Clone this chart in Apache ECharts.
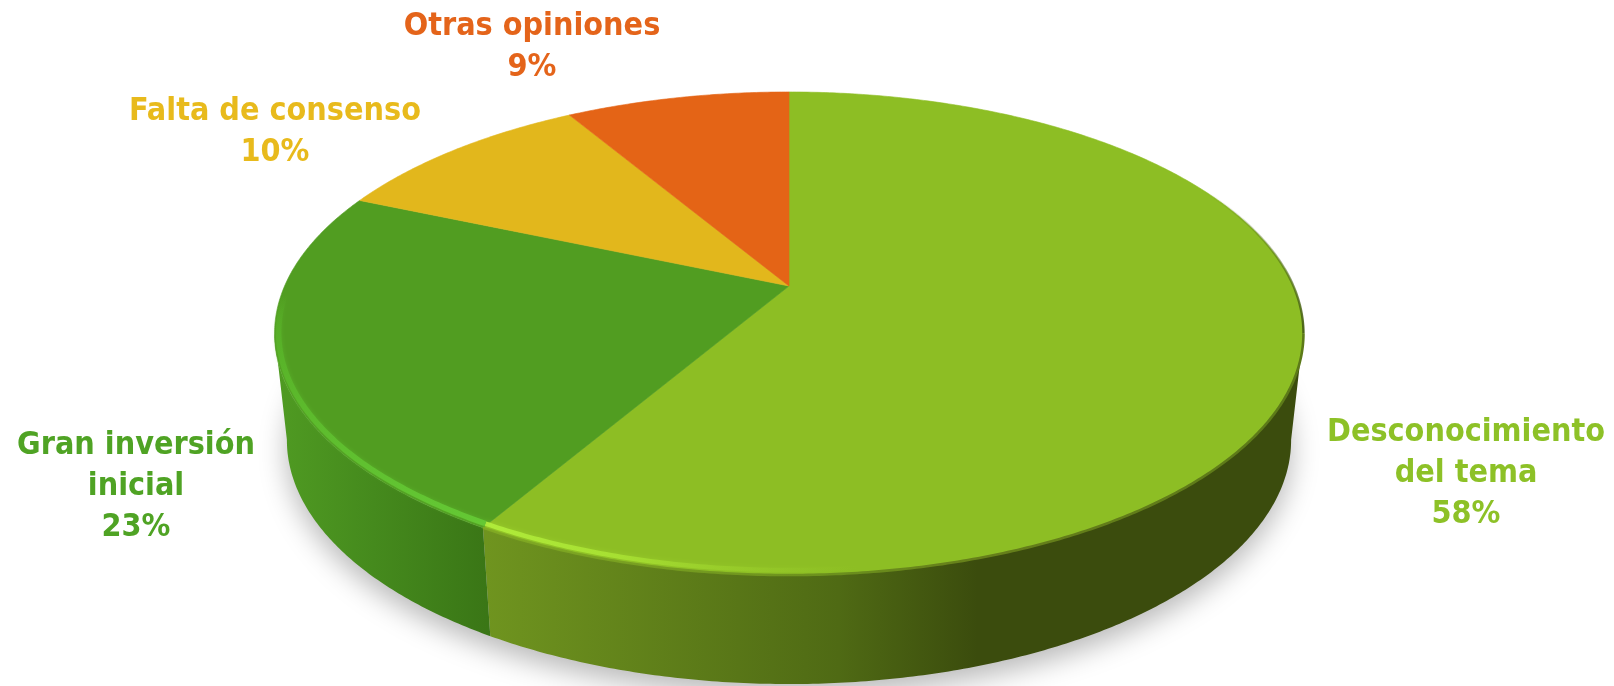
<!DOCTYPE html>
<html><head><meta charset="utf-8">
<style>html,body{margin:0;padding:0;background:#fff}#c{width:1614px;height:686px}</style>
<script src="https://cdn.jsdelivr.net/npm/echarts@6/dist/echarts.min.js"></script>
</head><body><div id="c"></div>
<script>
const categories = ["Desconocimiento\ndel tema", "Gran inversión\ninicial", "Falta de consenso", "Otras opiniones"];
const values = [58.4, 23.1, 10.0, 8.5];
const faceColors = ["#8DBE24", "#519D21", "#E2B71C", "#E46416"];
const labelColors = ["#8DC127", "#4FA324", "#E8BA1C", "#E4641A"];

// view of the tilted disc
const K = 0.1967, CX = 789;
const TOP = {y0: 286, a: 232.2, b: 504.4};
const RIM = {y0: 286, a: 228.2, b: 500.4};
const BOT = {y0: 392, a: 234.6, b: 492.3};
const FRONT_A = 101.3, FRONT_B = 258.7;
const labelCentres = [[1466, 474], [136, 487], [275, 132], [532, 47]];
const total = values.reduce((s, v) => s + v, 0);

function pt(deg, f) {
  const t = deg * Math.PI / 180, s = Math.sin(t), c = Math.cos(t), d = 1 + K * c;
  return [CX + f.b * s / d, f.y0 - f.a * c / d];
}
function arc(a, b, f) {
  const out = [], n = Math.max(2, Math.ceil(Math.abs(b - a) * 2));
  for (let i = 0; i <= n; i++) out.push(pt(a + (b - a) * i / n, f));
  return out;
}
function span(i) {
  let acc = 0;
  for (let j = 0; j < i; j++) acc += values[j];
  return [acc / total * 360, (acc + values[i]) / total * 360];
}
function grad(x, y, x2, y2, stops) {
  return {type: 'linear', x: x, y: y, x2: x2, y2: y2, global: true,
    colorStops: stops.map(s => ({offset: s[0], color: s[1]}))};
}
const wallFills = [
  grad(487, 0, 1304, 0, [[0, '#6F941F'], [0.43, '#4F6A14'], [0.6, '#3B4C0D'], [1, '#3B4C0D']]),
  grad(280, 0, 487, 0, [[0, '#4F9A22'], [0.45, '#458A1D'], [1, '#3A7616']])
];
const limeGlow = grad(487, 0, 860, 0, [[0, 'rgba(176,235,58,1)'], [0.35, 'rgba(170,228,52,0.85)'], [1, 'rgba(150,200,40,0)']]);
const greenGlow = grad(0, 295, 0, 523, [[0, 'rgba(90,180,40,0)'], [0.22, 'rgba(88,178,40,1)'], [1, 'rgba(100,200,52,1)']]);
const limeEdge = grad(487, 0, 1304, 0, [[0, '#7EA622'], [0.43, '#6B8F1D'], [0.6, '#667F1A'], [1, '#5C7A18']]);
const shoulder = grad(0, 190, 0, 338, [[0, 'rgba(70,95,20,0)'], [1, 'rgba(70,95,20,1)']]);

function renderShadow(params, api) {
  if (params.dataIndex !== 0) return null;
  return {type: 'polygon', shape: {points: arc(0, 360, BOT)},
    style: {fill: '#cfcfcf', shadowBlur: 28, shadowColor: 'rgba(0,0,0,0.28)', shadowOffsetY: 11}};
}
function renderWall(params, api) {
  const i = params.dataIndex;
  const [a0, b0] = span(i);
  const a = Math.max(a0, FRONT_A), b = Math.min(b0, FRONT_B);
  if (b <= a) return null;
  return {type: 'polygon',
    shape: {points: arc(a, b, TOP).concat(arc(b, a, BOT))},
    style: {fill: wallFills[i]}};
}
function renderFace(params, api) {
  const i = params.dataIndex;
  const [a, b] = span(i);
  return {type: 'polygon',
    shape: {points: [[CX, TOP.y0]].concat(arc(a, b, TOP))},
    style: {fill: faceColors[i], stroke: faceColors[i], lineWidth: 0.6}};
}
function renderRim(params, api) {
  const i = params.dataIndex;
  const [a0, b0] = span(i);
  if (i === 0) return {type: 'group', children: [
    {type: 'polyline', shape: {points: arc(50, FRONT_A, TOP)},
      style: {fill: null, stroke: shoulder, lineWidth: 2.4}},
    {type: 'polyline', shape: {points: arc(FRONT_A, b0, TOP)},
      style: {fill: null, stroke: limeEdge, lineWidth: 2.6}},
    {type: 'polyline', shape: {points: arc(FRONT_A + 45, b0, RIM)},
      style: {fill: null, stroke: limeGlow, lineWidth: 4.5, shadowBlur: 5, shadowColor: 'rgba(170,228,52,0.4)'}}
  ]};
  if (i === 1) return {type: 'group', children: [
    {type: 'polyline', shape: {points: arc(a0, b0, RIM)},
      style: {fill: null, stroke: greenGlow, lineWidth: 5.5, shadowBlur: 4, shadowColor: 'rgba(100,200,52,0.4)'}}
  ]};
  return null;
}
function renderLabel(params, api) {
  const i = params.dataIndex;
  return {type: 'text', x: labelCentres[i][0], y: labelCentres[i][1],
    style: {text: categories[i] + "\n" + Math.round(api.value(0)) + "%",
      fill: labelColors[i], font: 'bold 32px "DejaVu Sans Condensed", "DejaVu Sans"', lineHeight: 41,
      align: 'center', verticalAlign: 'middle'}};
}
const rows = values.map(v => [v]);
const mk = (fn, z) => ({type: 'custom', coordinateSystem: 'none', renderItem: fn, data: rows, z: z, silent: true, animation: false});
const chart = echarts.init(document.getElementById('c'), null, {renderer: 'canvas'});
chart.setOption({
  backgroundColor: '#ffffff', animation: false, tooltip: {show: false},
  series: [mk(renderShadow, 1), mk(renderWall, 2), mk(renderFace, 3), mk(renderRim, 4), mk(renderLabel, 5)]
});
</script></body></html>
